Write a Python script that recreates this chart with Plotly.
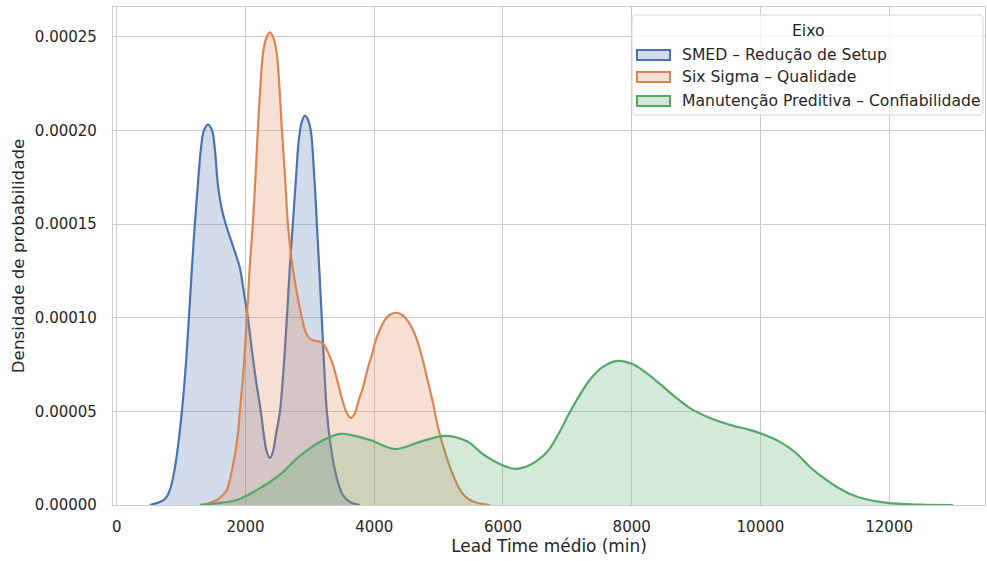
import plotly.graph_objects as go

# Lead time values (min) and KDE density values
smed_x = [513, 668, 746, 824, 901, 963, 1010, 1072, 1119, 1165, 1212, 1259, 1305, 1352,
          1414, 1476, 1523, 1570, 1632, 1709, 1787, 1849, 1911, 1974, 2036, 2098, 2160,
          2238, 2284, 2331, 2378, 2424, 2471, 2533, 2595, 2642, 2688, 2735, 2782, 2828,
          2875, 2922, 2968, 3015, 3061, 3108, 3139, 3170, 3201, 3232, 3263, 3310, 3372,
          3435, 3512, 3621, 3776]
smed_y = [0.0, 0.0000016, 0.0000032, 0.0000080, 0.0000198, 0.0000348, 0.0000497, 0.0000749,
          0.0001000, 0.0001257, 0.0001503, 0.0001711, 0.0001899, 0.0002000, 0.0002032,
          0.0002005, 0.0001899, 0.0001711, 0.0001578, 0.0001481, 0.0001401, 0.0001337,
          0.0001267, 0.0001134, 0.0001000, 0.0000829, 0.0000669, 0.0000497, 0.0000374,
          0.0000283, 0.0000251, 0.0000283, 0.0000374, 0.0000497, 0.0000749, 0.0001000,
          0.0001273, 0.0001503, 0.0001738, 0.0001952, 0.0002048, 0.0002080, 0.0002059,
          0.0001995, 0.0001792, 0.0001503, 0.0001300, 0.0001096, 0.0000882, 0.0000669,
          0.0000497, 0.0000348, 0.0000214, 0.0000123, 0.0000053, 0.0000016, 0.0]

six_x = [1290, 1399, 1476, 1554, 1632, 1709, 1772, 1834, 1880, 1911, 1974, 2020, 2067,
         2113, 2160, 2191, 2222, 2269, 2315, 2378, 2440, 2486, 2533, 2564, 2611, 2657,
         2720, 2797, 2875, 2937, 2999, 3077, 3155, 3217, 3279, 3357, 3435, 3512, 3574,
         3636, 3699, 3761, 3823, 3901, 3963, 4025, 4087, 4165, 4242, 4336, 4429, 4507,
         4600, 4678, 4740, 4802, 4864, 4926, 4973, 5051, 5128, 5206, 5284, 5377, 5486,
         5610, 5796]
six_y = [0.0, 0.0000005, 0.0000016, 0.0000027, 0.0000048, 0.0000080, 0.0000160, 0.0000267,
         0.0000374, 0.0000497, 0.0000749, 0.0001000, 0.0001284, 0.0001503, 0.0001792,
         0.0002005, 0.0002193, 0.0002407, 0.0002487, 0.0002524, 0.0002487, 0.0002407,
         0.0002193, 0.0002005, 0.0001765, 0.0001503, 0.0001300, 0.0001134, 0.0001000,
         0.0000920, 0.0000888, 0.0000877, 0.0000872, 0.0000856, 0.0000818, 0.0000749,
         0.0000652, 0.0000551, 0.0000492, 0.0000465, 0.0000492, 0.0000562, 0.0000626,
         0.0000733, 0.0000802, 0.0000882, 0.0000936, 0.0000989, 0.0001016, 0.0001027,
         0.0001016, 0.0000989, 0.0000936, 0.0000866, 0.0000792, 0.0000706, 0.0000615,
         0.0000524, 0.0000439, 0.0000337, 0.0000251, 0.0000176, 0.0000112, 0.0000059,
         0.0000027, 0.0000011, 0.0]

man_x = [1290, 1601, 1865, 2176, 2378, 2580, 2844, 3155, 3465, 3699, 3932, 4320, 4709,
         5097, 5439, 5688, 5952, 6185, 6418, 6682, 6853, 7040, 7195, 7350, 7552, 7786,
         8003, 8205, 8438, 8671, 8951, 9215, 9526, 9837, 10070, 10303, 10536, 10769,
         11002, 11189, 11391, 11624, 11966, 12479, 12991]
man_y = [0.0, 0.0000011, 0.0000027, 0.0000080, 0.0000123, 0.0000176, 0.0000262, 0.0000337,
         0.0000380, 0.0000369, 0.0000348, 0.0000299, 0.0000337, 0.0000369, 0.0000340,
         0.0000272, 0.0000219, 0.0000193, 0.0000214, 0.0000283, 0.0000374, 0.0000497,
         0.0000588, 0.0000669, 0.0000738, 0.0000770, 0.0000754, 0.0000711, 0.0000647,
         0.0000578, 0.0000508, 0.0000465, 0.0000428, 0.0000401, 0.0000374, 0.0000337,
         0.0000283, 0.0000203, 0.0000139, 0.0000096, 0.0000059, 0.0000032, 0.0000011,
         0.0000002, 0.0]

series_names = ["SMED – Redução de Setup", "Six Sigma – Qualidade",
                "Manutenção Preditiva – Confiabilidade"]
legend_title = "Eixo"
line_colors = ["#4C72B0", "#DD8452", "#55A868"]
fill_colors = ["rgba(76,114,176,0.25)", "rgba(221,132,82,0.25)", "rgba(85,168,104,0.25)"]

x_ticks = [0, 2000, 4000, 6000, 8000, 10000, 12000]
y_ticks = [0.0, 0.00005, 0.00010, 0.00015, 0.00020, 0.00025]

fig = go.Figure()
for xs, ys, name, lc, fc in zip([smed_x, six_x, man_x], [smed_y, six_y, man_y],
                                series_names, line_colors, fill_colors):
    fig.add_trace(go.Scatter(
        x=xs, y=ys, name=name, mode="lines", showlegend=False,
        line=dict(color=lc, width=2.2, shape="spline", smoothing=1.0),
        fill="tozeroy", fillcolor=fc,
    ))

# ---- legend drawn as box + patches + text (paper coords of the plot area) ----
LX0, LX1, LY0, LY1 = 0.5952, 0.9977, 0.7831, 0.9839
rx, ry = 0.0046, 0.0080
box_path = (f"M{LX0+rx},{LY1} L{LX1-rx},{LY1} Q{LX1},{LY1} {LX1},{LY1-ry} "
            f"L{LX1},{LY0+ry} Q{LX1},{LY0} {LX1-rx},{LY0} L{LX0+rx},{LY0} "
            f"Q{LX0},{LY0} {LX0},{LY0+ry} L{LX0},{LY1-ry} Q{LX0},{LY1} {LX0+rx},{LY1} Z")
shapes = [dict(type="path", path=box_path, xref="paper", yref="paper",
               fillcolor="rgba(255,255,255,0.8)", line=dict(color="#d6d6d6", width=1),
               layer="above")]
annotations = [dict(text=legend_title, x=0.797, y=0.9518, xref="paper", yref="paper",
                    xanchor="center", yanchor="middle", showarrow=False,
                    font=dict(size=15.6, color="#262626"))]
row_y = [0.9036, 0.8594, 0.8112]
half_h = 0.0100
for ry_c, name, lc, fc in zip(row_y, series_names, line_colors, fill_colors):
    shapes.append(dict(type="rect", xref="paper", yref="paper",
                       x0=0.6009, x1=0.6388, y0=ry_c - half_h, y1=ry_c + half_h,
                       fillcolor=fc, line=dict(color=lc, width=2), layer="above"))
    annotations.append(dict(text=name, x=0.6502, y=ry_c, xref="paper", yref="paper",
                            xanchor="left", yanchor="middle", showarrow=False,
                            font=dict(size=15.6, color="#262626")))

font_family = "DejaVu Sans"
fig.update_layout(
    width=987, height=561,
    margin=dict(l=113, r=2, t=7, b=56),
    paper_bgcolor="white", plot_bgcolor="white",
    font=dict(family=font_family, size=15, color="#262626"),
    showlegend=False,
    shapes=shapes, annotations=annotations,
    xaxis=dict(
        range=[-60, 13490], tickvals=x_ticks, ticktext=[str(v) for v in x_ticks],
        showgrid=True, gridcolor="#cccccc", gridwidth=1, zeroline=False,
        showline=True, linecolor="#cccccc", linewidth=1.2, mirror=True,
        ticks="", ticklabelstandoff=8,
        title=dict(text="Lead Time médio (min)", standoff=4, font=dict(size=16.9)),
    ),
    yaxis=dict(
        range=[0, 0.000266], tickvals=y_ticks, ticktext=[f"{v:.5f}" for v in y_ticks],
        showgrid=True, gridcolor="#cccccc", gridwidth=1, zeroline=False,
        showline=True, linecolor="#cccccc", linewidth=1.2, mirror=True,
        ticks="", ticklabelstandoff=12,
        title=dict(text="Densidade de probabilidade", standoff=6, font=dict(size=16.7)),
    ),
)

fig.write_html("out.html")
